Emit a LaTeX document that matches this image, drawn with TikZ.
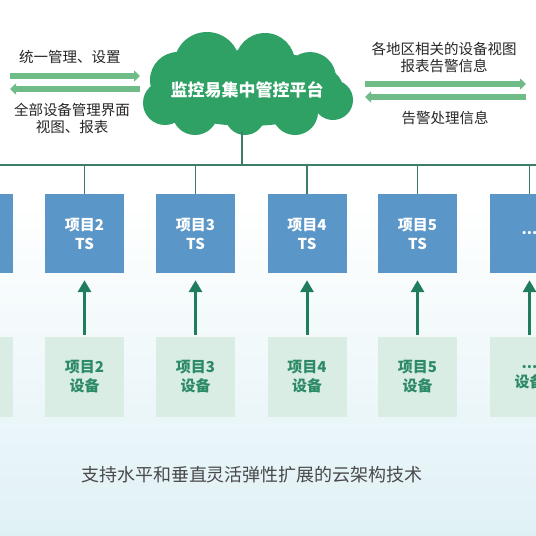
\documentclass[tikz,border=0pt]{standalone}
\usepackage{fontspec}
\setmainfont{Noto Sans CJK SC}
\usetikzlibrary{arrows.meta, positioning}

\definecolor{cloudgreen}{HTML}{2FA164}
\definecolor{tsblue}{HTML}{5B96C8}
\definecolor{devfill}{HTML}{DAEDE5}
\definecolor{devtext}{HTML}{2C8A66}
\definecolor{upgreen}{HTML}{1F7C5C}
\definecolor{flowgreen}{HTML}{6FBC88}
\definecolor{busgreen}{HTML}{3D7D66}
\definecolor{bgblue}{HTML}{E0F1F6}
\definecolor{textgray}{HTML}{4A4A4A}

\begin{document}
\begin{tikzpicture}[
    x=1pt, y=-1pt,
    ts/.style={
        rectangle,
        fill=tsblue,
        text=white,
        font=\fontsize{15}{19}\selectfont\bfseries,
        align=center,
        minimum width=79pt,
        minimum height=79pt,
        inner sep=0pt
    },
    dev/.style={
        rectangle,
        fill=devfill,
        text=devtext,
        font=\fontsize{15}{19}\selectfont\bfseries,
        align=center,
        minimum width=79pt,
        minimum height=80pt,
        inner sep=0pt
    },
    flowtext/.style={font=\fontsize{14.5}{17}\selectfont, align=center, text=black!85},
    flow/.style={-{Triangle[width=11pt,length=6pt]}, line width=5.5pt, flowgreen},
    uparrow/.style={-{Triangle[width=13pt,length=12pt]}, line width=3pt, upgreen},
    bus/.style={busgreen, line width=1.5pt}
]

\useasboundingbox (0,0) rectangle (536,536);
\clip (0,0) rectangle (536,536);

% Background
\fill[white] (0,0) rectangle (536,200);
\shade[top color=white, bottom color=bgblue] (0,200) rectangle (536,536);

% Cloud
\fill[cloudgreen]
    (248,88) ellipse[x radius=95pt, y radius=38pt]
    (207,65) circle[radius=33pt]
    (265,63) circle[radius=30pt]
    (310,78) circle[radius=26pt]
    (178,80) circle[radius=28pt]
    (165,103) circle[radius=22pt]
    (333,100) circle[radius=20pt]
    (195,112) circle[radius=23pt]
    (245,115) circle[radius=20pt]
    (295,112) circle[radius=23pt];
\node[font=\fontsize{17}{20}\selectfont\bfseries, text=white] (cloud) at (247,90) {监控易集中管控平台};

% Left flows
\node[flowtext] (setlabel) at (70,57) {统一管理、设置};
\node[flowtext] (viewlabel) at (72,118) {全部设备管理界面\\视图、报表};
\coordinate (lefttopA) at (10,76);
\coordinate (lefttopB) at (140,76);
\coordinate (leftbotA) at (140,89);
\coordinate (leftbotB) at (10,89);
\draw[flow] (lefttopA) -- (lefttopB);
\draw[flow] (leftbotA) -- (leftbotB);

% Right flows
\node[flowtext] (reportlabel) at (444,57) {各地区相关的设备视图\\报表告警信息};
\node[flowtext] (alarmlabel) at (445,118) {告警处理信息};
\coordinate (righttopA) at (365,84);
\coordinate (righttopB) at (526,84);
\coordinate (rightbotA) at (526,97);
\coordinate (rightbotB) at (365,97);
\draw[flow] (righttopA) -- (righttopB);
\draw[flow] (rightbotA) -- (rightbotB);

% Bus
\coordinate (busL) at (0,165);
\coordinate (busR) at (536,165);
\coordinate (cloudbot) at (242,132);
\draw[bus] (busL) -- (busR);
\draw[bus] (cloudbot) -- (cloudbot |- busL);

% TS boxes
\node[ts] (ts1) at (-26.5,233.5) {};
\node[ts] (ts2) at (84.5,233.5) {项目2\\TS};
\node[ts] (ts3) at (195.5,233.5) {项目3\\TS};
\node[ts] (ts4) at (307,233.5) {项目4\\TS};
\node[ts] (ts5) at (417.5,233.5) {项目5\\TS};
\node[ts] (ts6) at (529.5,233.5) {...};

% Drops to bus
\draw[bus] (ts2.north) -- (ts2.north |- busL);
\draw[bus] (ts3.north) -- (ts3.north |- busL);
\draw[bus] (ts4.north) -- (ts4.north |- busL);
\draw[bus] (ts5.north) -- (ts5.north |- busL);
\draw[bus] (ts6.north) -- (ts6.north |- busL);

% Device boxes
\node[dev] (dev1) at (-26.5,377) {};
\node[dev] (dev2) at (84.5,377) {项目2\\设备};
\node[dev] (dev3) at (195.5,377) {项目3\\设备};
\node[dev] (dev4) at (307,377) {项目4\\设备};
\node[dev] (dev5) at (417.5,377) {项目5\\设备};
\node[dev] (dev6) at (529.5,377) {...\\设备};

% Upward arrows
\draw[uparrow, shorten <=2pt, shorten >=7pt] (dev2) -- (ts2);
\draw[uparrow, shorten <=2pt, shorten >=7pt] (dev3) -- (ts3);
\draw[uparrow, shorten <=2pt, shorten >=7pt] (dev4) -- (ts4);
\draw[uparrow, shorten <=2pt, shorten >=7pt] (dev5) -- (ts5);
\draw[uparrow, shorten <=2pt, shorten >=7pt] (dev6) -- (ts6);

% Caption
\node[font=\fontsize{18}{20}\selectfont, text=textgray] (caption) at (252,475) {支持水平和垂直灵活弹性扩展的云架构技术};

\end{tikzpicture}
\end{document}
